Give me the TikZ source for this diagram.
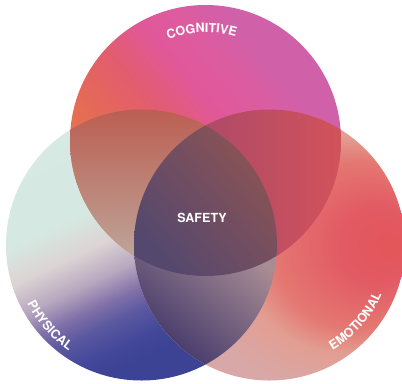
\documentclass[tikz,border=0pt]{standalone}
\usepackage{fontspec}
\setsansfont{TeX Gyre Heros}
\usetikzlibrary{decorations.text}

\newcommand{\labelfont}{\fontsize{9.4}{11}\selectfont\sffamily\bfseries}

% cognitive (top) colours
\definecolor{cogOrange}{HTML}{E6714F}
\definecolor{cogCoral}{HTML}{E4685A}
\definecolor{cogRose}{HTML}{E25C70}
\definecolor{cogPink}{HTML}{E0589A}
\definecolor{cogMagenta}{HTML}{DC5CA0}
\definecolor{cogViolet}{HTML}{D060A8}
% physical (left) colours
\definecolor{phyBlue}{HTML}{3C4294}
\definecolor{phyIndigo}{HTML}{42479A}
\definecolor{phyPurple}{HTML}{5A58A0}
\definecolor{phyViolet}{HTML}{8070A8}
\definecolor{phyLilac}{HTML}{B8A8C0}
\definecolor{phyMist}{HTML}{DCD4D4}
\definecolor{phyMint}{HTML}{D6E8E2}
\definecolor{phyMintLight}{HTML}{D5EAE4}
% emotional (right) colours
\definecolor{emoRed}{HTML}{E3565A}
\definecolor{emoCrimson}{HTML}{E25A64}
\definecolor{emoSalmon}{HTML}{E47872}
\definecolor{emoPeach}{HTML}{E29E92}
\definecolor{emoBlush}{HTML}{D8A8A8}
% overlap colours
\definecolor{tlTop}{HTML}{BC5E52}
\definecolor{tlMid}{HTML}{C48C78}
\definecolor{tlBottom}{HTML}{BEAEA2}
\definecolor{trLeft}{HTML}{9C4670}
\definecolor{trMid}{HTML}{BA506A}
\definecolor{trRight}{HTML}{D2525A}
\definecolor{lrLight}{HTML}{A88C94}
\definecolor{lrMid}{HTML}{605888}
\definecolor{lrDark}{HTML}{3E3468}
\definecolor{allWarm}{HTML}{905452}
\definecolor{allMid}{HTML}{6C4450}
\definecolor{allCool}{HTML}{54486E}

\pgfdeclarehorizontalshading{cogshade}{100bp}{color(0bp)=(cogOrange); color(33bp)=(cogOrange);
  color(39bp)=(cogCoral); color(47bp)=(cogRose); color(55bp)=(cogPink);
  color(62bp)=(cogMagenta); color(68bp)=(cogViolet); color(100bp)=(cogViolet)}
\pgfdeclareverticalshading{physhade}{100bp}{color(0bp)=(phyBlue); color(31bp)=(phyBlue);
  color(34.4bp)=(phyIndigo); color(39.3bp)=(phyPurple); color(43bp)=(phyViolet);
  color(47.7bp)=(phyLilac); color(53.4bp)=(phyMist); color(59.8bp)=(phyMint);
  color(100bp)=(phyMintLight)}
\pgfdeclareradialshading{emoshade}{\pgfpoint{23.2bp}{0bp}}{color(0bp)=(emoRed);
  color(1bp)=(emoRed); color(7bp)=(emoCrimson); color(15.5bp)=(emoSalmon);
  color(20bp)=(emoPeach); color(27bp)=(emoBlush); color(50bp)=(emoBlush)}

\begin{document}
\begin{tikzpicture}[x=0.75pt,y=0.75pt,
    arclabel/.style={decoration={text along path, text align=center,
      text={|\labelfont\color{white}|#1}}, decorate}]
  \useasboundingbox (0,0) rectangle (402,383);
  \coordinate (cog) at (205.5,242.5);
  \coordinate (phy) at (141.5,138);
  \coordinate (emo) at (269.5,138);

  % the three circles
  \shade[shading=physhade, shading angle=25] (phy) circle[radius=135.5];
  \shade[shading=emoshade] (emo) circle[radius=135.5];
  \shade[shading=cogshade, shading angle=40] (cog) circle[radius=135.5];

  % overlaps
  \begin{scope}
    \clip (cog) circle[radius=135.5];
    \clip (phy) circle[radius=135.5];
    \shade[top color=tlTop, middle color=tlMid, bottom color=tlBottom] (70,106) rectangle (277,274);
  \end{scope}
  \begin{scope}
    \clip (cog) circle[radius=135.5];
    \clip (emo) circle[radius=135.5];
    \shade[left color=trLeft, middle color=trMid, right color=trRight] (134,106) rectangle (342,274);
  \end{scope}
  \begin{scope}
    \clip (phy) circle[radius=135.5];
    \clip (emo) circle[radius=135.5];
    \shade[top color=lrLight, middle color=lrMid, bottom color=lrDark, shading angle=-40] (134,18) rectangle (277,143);
  \end{scope}
  \begin{scope}
    \clip (cog) circle[radius=135.5];
    \clip (phy) circle[radius=135.5];
    \clip (emo) circle[radius=135.5];
    \shade[top color=allWarm, middle color=allMid, bottom color=allCool, shading angle=-50] (134,106) rectangle (277,274);
  \end{scope}

  \node[font=\labelfont, text=white] (safety) at (202,165) {SAFETY};
  \path[arclabel=COGNITIVE] ([shift={(142:108)}]cog) arc[start angle=142, end angle=42, radius=108];
  \path[arclabel=PHYSICAL] ([shift={(181.4:128.5)}]phy) arc[start angle=181.4, end angle=261.4, radius=128.5];
  \path[arclabel=EMOTIONAL] ([shift={(-81.5:122.8)}]emo) arc[start angle=-81.5, end angle=-1.5, radius=122.8];
\end{tikzpicture}
\end{document}
